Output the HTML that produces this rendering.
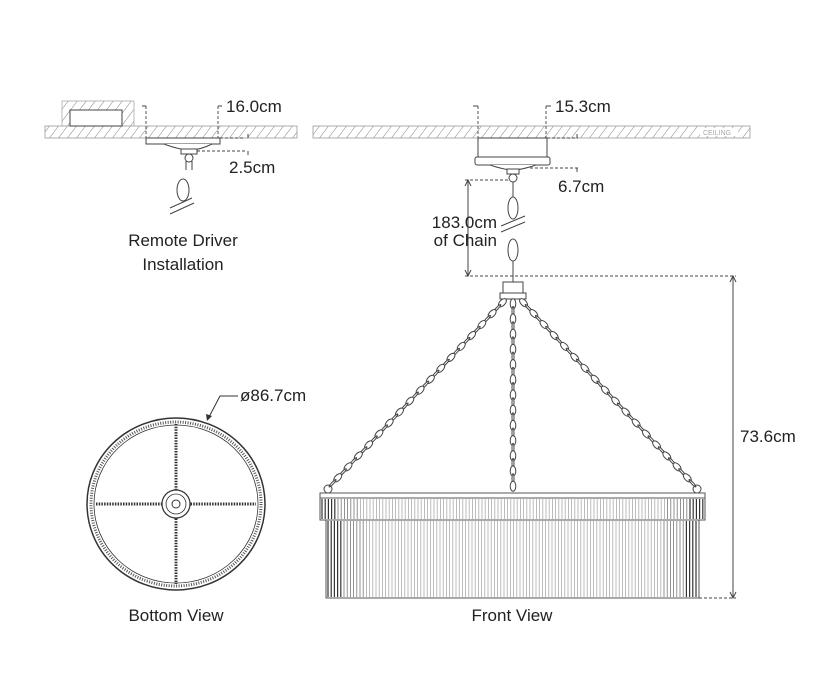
<!DOCTYPE html>
<html><head><meta charset="utf-8"><style>
html,body{margin:0;padding:0;background:#fff;width:834px;height:682px;overflow:hidden}
svg{display:block}
text{font-family:"Liberation Sans",sans-serif;fill:#222}
</style></head><body>
<svg id="s" width="834" height="682" viewBox="0 0 834 682" xmlns="http://www.w3.org/2000/svg">
<defs>
<pattern id="h" patternUnits="userSpaceOnUse" width="9" height="12"><line x1="0" y1="12" x2="9" y2="0" stroke="#aaa" stroke-width="0.8"/></pattern>
</defs>
<rect x="45" y="126" width="252" height="12" fill="url(#h)" stroke="#999" stroke-width="0.8"/>
<rect x="313" y="126" width="437" height="12" fill="url(#h)" stroke="#999" stroke-width="0.8"/>
<rect x="700" y="128" width="38" height="8" fill="#fff"/>
<text x="703" y="135" font-size="7" style="fill:#aaa">CEILING</text>
<rect x="62" y="101" width="72" height="25" fill="url(#h)" stroke="#aaa" stroke-width="0.8"/>
<rect x="70" y="110" width="52" height="16" fill="#fff" stroke="#444" stroke-width="1"/>
<g fill="#fff" stroke="#444" stroke-width="1">
<rect x="146" y="138" width="74" height="6"/>
<path d="M164 144 Q180 150 190 150 Q200 150 212 144"/>
<rect x="181" y="149" width="16" height="5"/>
<circle cx="189" cy="158" r="4"/>
<line x1="186" y1="161" x2="186" y2="170"/><line x1="192" y1="161" x2="192" y2="170"/>
<ellipse cx="183" cy="190" rx="6" ry="11"/>
</g>
<line x1="170" y1="208" x2="192" y2="198" stroke="#444"/><line x1="170" y1="214" x2="194" y2="203" stroke="#444"/>
<g stroke="#444" stroke-width="0.9" stroke-dasharray="3,2" fill="none">
<line x1="146" y1="106" x2="146" y2="138"/><line x1="218" y1="106" x2="218" y2="138"/>
<line x1="220" y1="138" x2="245" y2="138"/><line x1="197" y1="151" x2="245" y2="151"/>
</g>
<line x1="142" y1="106" x2="146" y2="106" stroke="#444"/><line x1="218" y1="106" x2="222" y2="106" stroke="#444"/>
<line x1="248" y1="134" x2="248" y2="138" stroke="#444"/><line x1="248" y1="151" x2="248" y2="155" stroke="#444"/>
<text x="226" y="112" font-size="17">16.0cm</text>
<text x="229" y="173" font-size="17">2.5cm</text>
<text x="183" y="246" font-size="17" text-anchor="middle">Remote Driver</text>
<text x="183" y="270" font-size="17" text-anchor="middle">Installation</text>
<g fill="#fff" stroke="#444" stroke-width="1">
<rect x="478" y="138" width="69" height="20"/>
<rect x="475" y="157" width="75" height="8" rx="2"/>
<path d="M490 165 Q505 170 513 170 Q521 170 536 165"/>
<rect x="507" y="169" width="12" height="5"/>
<circle cx="513" cy="178" r="4"/>
<line x1="513" y1="182" x2="513" y2="198"/>
<ellipse cx="513" cy="208" rx="5" ry="11"/>
<ellipse cx="513" cy="250" rx="5" ry="11"/>
<line x1="513" y1="261" x2="513" y2="282"/>
</g>
<line x1="501" y1="226" x2="525" y2="216" stroke="#444"/><line x1="501" y1="232" x2="525" y2="222" stroke="#444"/>
<g stroke="#444" stroke-width="0.9" stroke-dasharray="3,2" fill="none">
<line x1="478" y1="106" x2="478" y2="138"/><line x1="546" y1="106" x2="546" y2="138"/>
<line x1="547" y1="138" x2="578" y2="138"/><line x1="530" y1="168" x2="578" y2="168"/>
<line x1="465" y1="180" x2="510" y2="180"/><line x1="465" y1="276" x2="736" y2="276"/>
<line x1="699" y1="598" x2="736" y2="598"/>
</g>
<line x1="473" y1="106" x2="478" y2="106" stroke="#444"/><line x1="546" y1="106" x2="551" y2="106" stroke="#444"/>
<line x1="577" y1="134" x2="577" y2="138" stroke="#444"/><line x1="577" y1="168" x2="577" y2="172" stroke="#444"/>
<line x1="468" y1="180" x2="468" y2="276" stroke="#444"/>
<path d="M465 186 L468 180 L471 186 M465 270 L468 276 L471 270" stroke="#444" fill="none"/>
<line x1="733" y1="276" x2="733" y2="598" stroke="#444"/>
<path d="M730 282 L733 276 L736 282 M730 592 L733 598 L736 592" stroke="#444" fill="none"/>
<text x="555" y="112" font-size="17">15.3cm</text>
<text x="558" y="192" font-size="17">6.7cm</text>
<text x="497" y="228" font-size="17" text-anchor="end">183.0cm</text>
<text x="497" y="246" font-size="17" text-anchor="end">of Chain</text>
<text x="740" y="442" font-size="17">73.6cm</text>
<rect x="503" y="282" width="20" height="12" fill="#fff" stroke="#444"/>
<rect x="500" y="293" width="26" height="6" fill="#fff" stroke="#444"/>
<g id="chains"></g>
<rect x="320" y="493" width="385" height="5" fill="#fff" stroke="#555"/>
<rect x="320" y="498" width="385" height="22" fill="#fff" stroke="#555"/>
<rect x="326" y="520" width="373" height="78" fill="#fff" stroke="#555"/>
<g id="grille"></g>
<text x="512" y="621" font-size="17" text-anchor="middle">Front View</text>
<g fill="none" stroke="#333">
<ellipse cx="176" cy="504" rx="89" ry="86" stroke-width="1.5"/>
<ellipse cx="176" cy="504" rx="85" ry="82" stroke="#555" stroke-width="3" stroke-dasharray="1,1.5"/>
<ellipse cx="176" cy="504" rx="82" ry="79" stroke-width="0.8"/>
<line x1="96" y1="504" x2="256" y2="504" stroke-width="3" stroke-dasharray="1.5,1.2"/>
<line x1="176" y1="424" x2="176" y2="584" stroke-width="3" stroke-dasharray="1.5,1.2"/>
<circle cx="176" cy="504" r="14" fill="#fff" stroke-width="1.2"/>
<circle cx="176" cy="504" r="10" stroke-width="0.8"/>
<circle cx="176" cy="504" r="4" fill="#fff"/>
<path d="M209 417 L220 396 L238 396" stroke-width="1"/>
</g>
<path d="M207 421 L206 414 L212 416 Z" fill="#333"/>
<text x="240" y="401" font-size="17">ø86.7cm</text>
<text x="176" y="621" font-size="17" text-anchor="middle">Bottom View</text>
</svg>
<script>
var ns="http://www.w3.org/2000/svg";
function el(p,t,a){var e=document.createElementNS(ns,t);for(var k in a)e.setAttribute(k,a[k]);p.appendChild(e);return e;}
var c=document.getElementById("chains");
function chain(x1,y1,x2,y2){var dx=x2-x1,dy=y2-y1,L=Math.hypot(dx,dy),n=Math.round(L/7.5),ang=Math.atan2(dy,dx)*180/Math.PI;
for(var i=0;i<n;i++){var t=(i+0.5)/n,x=x1+dx*t,y=y1+dy*t;
el(c,"ellipse",{cx:x,cy:y,rx:5,ry:i%2?1:2.8,transform:"rotate("+ang+" "+x+" "+y+")",fill:"#fff",stroke:"#444","stroke-width":1});}}
chain(505,300,330,486);chain(521,300,695,486);chain(513,300,513,490);
el(c,"circle",{cx:328,cy:489,r:4,fill:"none",stroke:"#444"});
el(c,"circle",{cx:697,cy:489,r:4,fill:"none",stroke:"#444"});
var g=document.getElementById("grille");
function gr(x0,x1,y0,y1){var w=x1-x0;for(var x=x0+2;x<x1-1;x+=3.2){var f=(x-x0)/w,edge=Math.min(f,1-f);var col=edge<0.04?"#333":(edge<0.1?"#777":"#aaa");
el(g,"line",{x1:x,y1:y0,x2:x,y2:y1,stroke:col,"stroke-width":edge<0.04?1.2:0.8});}}
gr(320,705,499,519);gr(326,699,521,597);
</script>
</body></html>
